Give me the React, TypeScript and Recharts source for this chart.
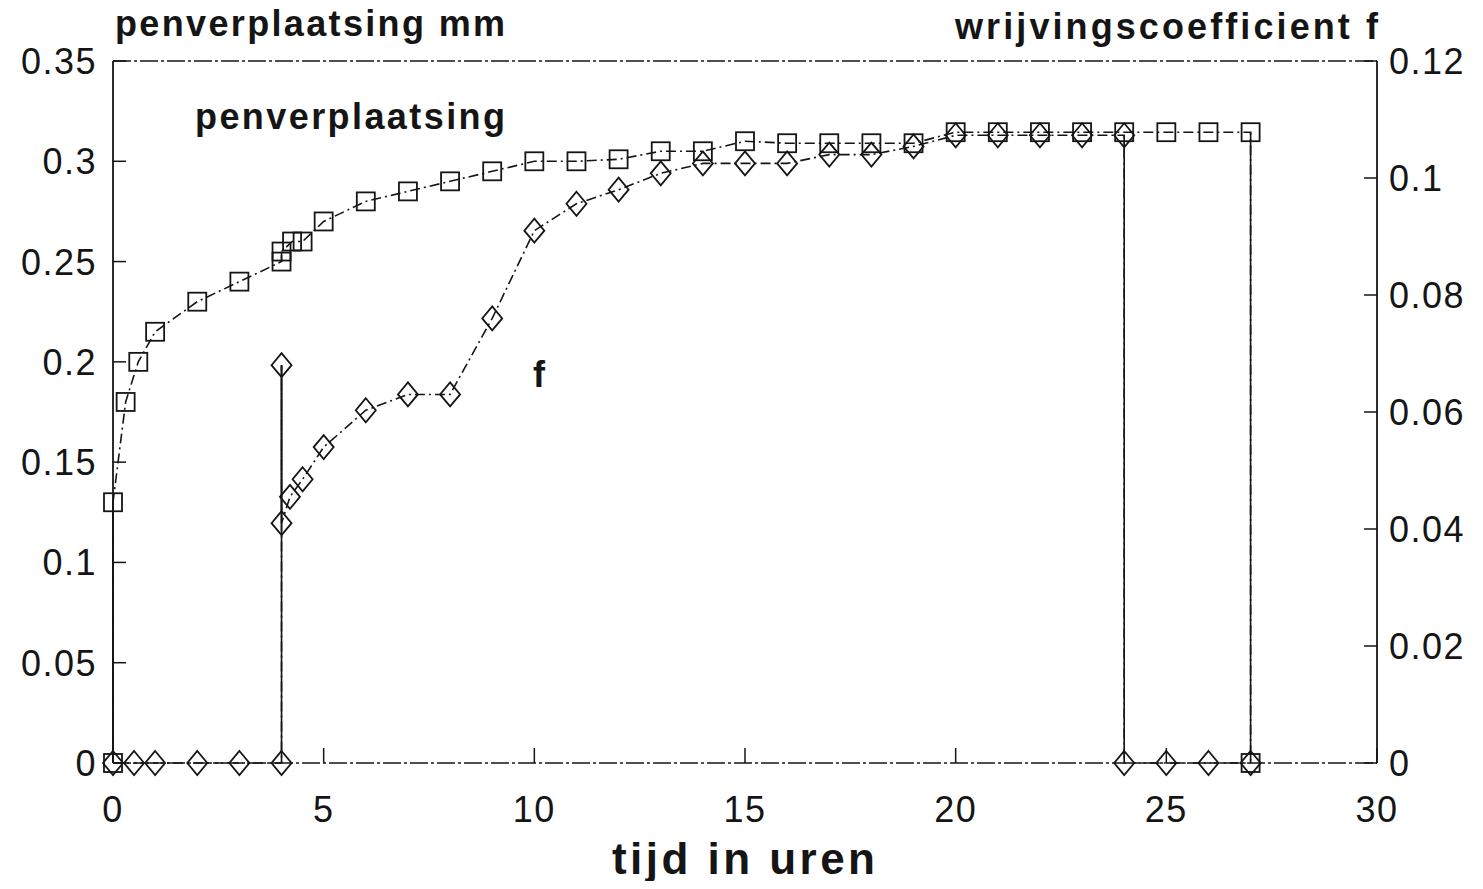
import React from "react";
import { ComposedChart, Line, XAxis, YAxis, ReferenceLine } from "recharts";

// penverplaatsing (mm) against time, left axis
const penTime = [0, 0, 0.3, 0.6, 1, 2, 3, 4, 4, 4.25, 4.5, 5, 6, 7, 8, 9, 10, 11, 12, 13, 14, 15, 16, 17, 18, 19, 20, 21, 22, 23, 24, 25, 26, 27, 27];
const penMm = [0, 0.13, 0.18, 0.2, 0.215, 0.23, 0.24, 0.25, 0.255, 0.26, 0.26, 0.27, 0.28, 0.285, 0.29, 0.295, 0.3, 0.3, 0.301, 0.305, 0.305, 0.31, 0.309, 0.309, 0.309, 0.309, 0.3145, 0.3145, 0.3145, 0.3145, 0.3145, 0.3145, 0.3145, 0.3145, 0];

// wrijvingscoefficient f against time, right axis
const fTime = [0, 0.5, 1, 2, 3, 4, 4, 4, 4.2, 4.5, 5, 6, 7, 8, 9, 10, 11, 12, 13, 14, 15, 16, 17, 18, 19, 20, 21, 22, 23, 24, 24, 25, 26, 27];
const fValue = [0, 0, 0, 0, 0, 0, 0.068, 0.041, 0.0455, 0.0485, 0.054, 0.0603, 0.063, 0.063, 0.076, 0.091, 0.0956, 0.098, 0.1008, 0.1025, 0.1025, 0.1025, 0.104, 0.104, 0.1054, 0.1073, 0.1073, 0.1073, 0.1073, 0.1073, 0, 0, 0, 0];

const xTicks = [0, 5, 10, 15, 20, 25, 30];
const mmTicks = [0, 0.05, 0.1, 0.15, 0.2, 0.25, 0.3, 0.35];
const fTicks = [0, 0.02, 0.04, 0.06, 0.08, 0.1, 0.12];

const INK = "#151515";
const FONT = "'Liberation Sans', Arial, sans-serif";
const DASH = "10 4 2 4";

const penData = penTime.map((t, i) => ({ t, mm: penMm[i] }));
const fData = fTime.map((t, i) => ({ t, f: fValue[i] }));

// consecutive points at the same time are joined by a solid vertical line
function verticals<T extends { t: number }>(rows: T[]) {
  const out: T[][] = [];
  for (let i = 1; i < rows.length; i++) {
    if (rows[i].t === rows[i - 1].t) out.push([rows[i - 1], rows[i]]);
  }
  return out;
}

const SquareDot = (p: any) => (
  <rect key={`s${p.index}`} x={p.cx - 9} y={p.cy - 9} width={18} height={18} fill="none" stroke={INK} strokeWidth={1.8} />
);

const DiamondDot = (p: any) => (
  <polygon
    key={`d${p.index}`}
    points={`${p.cx},${p.cy - 12} ${p.cx + 10},${p.cy} ${p.cx},${p.cy + 12} ${p.cx - 10},${p.cy}`}
    fill="none"
    stroke={INK}
    strokeWidth={1.8}
  />
);

const tickText = { fontSize: 36, fill: INK, fontFamily: FONT, letterSpacing: 1.5 };

const LeftTick = (p: any) => (
  <g>
    <line x1={p.x} x2={p.x + 13} y1={p.y} y2={p.y} stroke={INK} strokeWidth={1.5} />
    <text x={p.x - 16} y={p.y} dy="0.36em" textAnchor="end" {...tickText}>
      {String(p.payload.value)}
    </text>
  </g>
);

const RightTick = (p: any) => (
  <g>
    <line x1={p.x} x2={p.x - 13} y1={p.y} y2={p.y} stroke={INK} strokeWidth={1.5} />
    <text x={p.x + 12} y={p.y} dy="0.36em" textAnchor="start" {...tickText}>
      {String(p.payload.value)}
    </text>
  </g>
);

const BottomTick = (p: any) => (
  <g>
    <line x1={p.x} x2={p.x} y1={p.y} y2={p.y - 15} stroke={INK} strokeWidth={1.5} />
    <text x={p.x} y={p.y + 59} textAnchor="middle" {...tickText}>
      {String(p.payload.value)}
    </text>
  </g>
);

export default function App() {
  return (
    <div style={{ position: "relative", width: 1475, height: 873, background: "#fff" }}>
      <ComposedChart width={1475} height={873} margin={{ top: 53, left: 5, right: 6, bottom: 58 }}>
        <XAxis
          type="number"
          dataKey="t"
          domain={[0, 30]}
          ticks={xTicks}
          interval={0}
          height={60}
          tickSize={0}
          tickMargin={0}
          tickLine={false}
          tick={BottomTick}
          axisLine={{ stroke: INK, strokeWidth: 1.5, strokeDasharray: "18 3 3 3" }}
        />
        <YAxis
          yAxisId="mm"
          orientation="left"
          domain={[0, 0.35]}
          ticks={mmTicks}
          interval={0}
          width={100}
          tickSize={0}
          tickMargin={0}
          tickLine={false}
          tick={LeftTick}
          axisLine={{ stroke: INK, strokeWidth: 1.8 }}
        />
        <YAxis
          yAxisId="f"
          orientation="right"
          domain={[0, 0.12]}
          ticks={fTicks}
          interval={0}
          width={100}
          tickSize={0}
          tickMargin={0}
          tickLine={false}
          tick={RightTick}
          axisLine={{ stroke: INK, strokeWidth: 1.8 }}
        />
        <ReferenceLine yAxisId="mm" y={0.35} stroke={INK} strokeWidth={1.5} strokeDasharray="18 3 3 3" />

        {verticals(penData).map((seg, i) => (
          <Line
            key={`pv${i}`}
            yAxisId="mm"
            data={seg}
            dataKey="mm"
            type="linear"
            stroke={INK}
            strokeWidth={1.6}
            dot={false}
            activeDot={false}
            isAnimationActive={false}
          />
        ))}
        {verticals(fData).map((seg, i) => (
          <Line
            key={`fv${i}`}
            yAxisId="f"
            data={seg}
            dataKey="f"
            type="linear"
            stroke={INK}
            strokeWidth={1.6}
            dot={false}
            activeDot={false}
            isAnimationActive={false}
          />
        ))}
        <Line
          yAxisId="mm"
          data={penData}
          dataKey="mm"
          type="linear"
          stroke={INK}
          strokeWidth={1.6}
          strokeDasharray={DASH}
          dot={SquareDot}
          activeDot={false}
          isAnimationActive={false}
        />
        <Line
          yAxisId="f"
          data={fData}
          dataKey="f"
          type="linear"
          stroke={INK}
          strokeWidth={1.6}
          strokeDasharray={DASH}
          dot={DiamondDot}
          activeDot={false}
          isAnimationActive={false}
        />
      </ComposedChart>

      <svg
        width={1475}
        height={873}
        style={{ position: "absolute", left: 0, top: 0, pointerEvents: "none", overflow: "visible" }}
        fontFamily={FONT}
        fill={INK}
      >
        <g transform="translate(-8,-8)">
          <text x={115} y={36} fontSize={36} fontWeight="bold" textLength={390} lengthAdjust="spacing">
            penverplaatsing mm
          </text>
          <text x={955} y={39} fontSize={36} fontWeight="bold" textLength={423} lengthAdjust="spacing">
            wrijvingscoefficient f
          </text>
          <text x={195} y={129} fontSize={36} fontWeight="bold" textLength={310} lengthAdjust="spacing">
            penverplaatsing
          </text>
          <text x={533} y={387} fontSize={36} fontWeight="bold">
            f
          </text>
          <text x={612} y={874} fontSize={44} fontWeight="bold" textLength={263} lengthAdjust="spacing">
            tijd in uren
          </text>
        </g>
      </svg>
    </div>
  );
}
